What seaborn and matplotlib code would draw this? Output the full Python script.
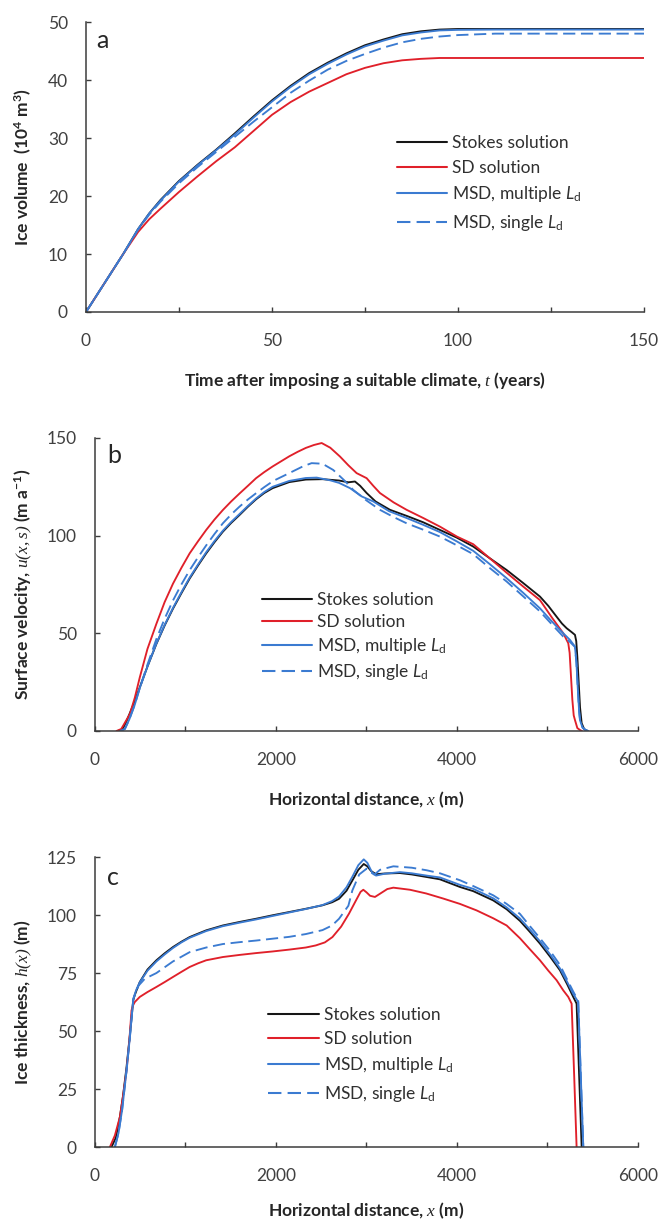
import matplotlib
matplotlib.use("Agg")
import matplotlib.pyplot as plt
import seaborn as sns
from matplotlib.ticker import MultipleLocator

# ---------------- (a) ice volume vs time ----------------
t_years = [0, 5, 10, 14, 17, 20, 25, 30, 35, 40, 45, 50, 55, 60, 65, 70,
           75, 80, 85, 90, 95, 100, 110, 120, 150]
vol_stokes = [0, 5.0, 10.0, 14.3, 17.0, 19.3, 22.6, 25.4, 28.0, 30.8, 33.7, 36.5,
              39.0, 41.2, 43.0, 44.6, 46.0, 47.0, 47.9, 48.4, 48.7, 48.8, 48.8, 48.8, 48.8]
vol_sd = [0, 5.0, 10.0, 13.8, 16.0, 17.8, 20.7, 23.4, 26.0, 28.4, 31.2, 34.0,
          36.2, 38.0, 39.5, 41.0, 42.1, 42.9, 43.4, 43.65, 43.8, 43.8, 43.8, 43.8, 43.8]
vol_msd_multi = [0, 5.0, 10.0, 14.3, 17.0, 19.2, 22.5, 25.3, 27.9, 30.6, 33.5, 36.3,
                 38.8, 41.0, 42.8, 44.4, 45.8, 46.8, 47.7, 48.2, 48.55, 48.65, 48.7, 48.7, 48.7]
vol_msd_single = [0, 5.0, 10.0, 14.2, 16.8, 19.0, 22.2, 25.0, 27.6, 30.2, 32.8, 35.3,
                  37.8, 39.9, 41.8, 43.3, 44.5, 45.6, 46.5, 47.1, 47.5, 47.75, 48.0, 48.0, 48.0]

# ---------------- (b) surface velocity vs distance ----------------
x_u_stokes = [250, 300, 349, 420, 495, 580, 679, 770, 862, 955, 1046, 1140, 1229, 1320,
              1413, 1505, 1596, 1690, 1780, 1870, 1963, 2147, 2330, 2514, 2697, 2800,
              2873, 2930, 3002, 3100, 3260, 3450, 3628, 3812, 3997, 4180, 4360, 4549,
              4730, 4917, 5010, 5101, 5160, 5212, 5270, 5304, 5318, 5330, 5345, 5360,
              5378, 5405, 5440]
u_stokes = [0, 0.5, 5.1, 13.0, 22.3, 33.0, 44.6, 54.0, 62.6, 70.5, 78.0, 84.8, 90.9, 96.6,
            102.0, 106.5, 110.5, 114.8, 118.6, 121.8, 124.3, 127.4, 128.7, 128.9, 128.2, 127.3,
            127.7, 125.5, 121.8, 117.5, 113.2, 110.0, 106.8, 102.9, 99.0, 94.4, 88.5, 82.4,
            75.8, 68.8, 64.0, 58.5, 55.0, 52.6, 50.5, 49.2, 46.0, 38.0, 25.0, 12.0,
            4.0, 1.0, 0]

x_u_sd = [238, 290, 385, 440, 495, 580, 679, 770, 862, 955, 1046, 1140, 1229, 1320, 1413,
          1505, 1596, 1690, 1780, 1870, 1963, 2055, 2147, 2240, 2330, 2420, 2505, 2600,
          2707, 2800, 2891, 3002, 3075, 3149, 3300, 3444, 3628, 3812, 4000, 4180, 4360,
          4549, 4730, 4917, 5050, 5175, 5230, 5245, 5260, 5275, 5290, 5304, 5330, 5359, 5380]
u_sd = [0, 1.0, 8.6, 17.0, 27.4, 42.0, 54.9, 66.0, 75.4, 83.5, 90.9, 97.2, 102.9, 108.2,
        113.1, 117.5, 121.5, 125.5, 129.4, 132.5, 135.4, 138.0, 140.6, 142.9, 144.9, 146.4,
        147.4, 145.0, 140.5, 136.0, 132.0, 129.4, 125.5, 121.8, 117.0, 113.2, 109.0, 104.6,
        99.5, 95.6, 88.5, 81.0, 74.0, 67.0, 58.0, 50.0, 44.9, 40.0, 28.0, 16.0, 8.0,
        5.6, 1.5, 0.5, 0]

x_u_msd_multi = [280, 330, 380, 440, 495, 580, 679, 770, 862, 955, 1046, 1140, 1229, 1320,
                 1413, 1505, 1596, 1690, 1780, 1870, 1963, 2147, 2330, 2450, 2600, 2697,
                 2818, 2950, 3075, 3250, 3444, 3628, 3812, 4000, 4180, 4360, 4549, 4730,
                 4917, 5030, 5138, 5249, 5304, 5320, 5335, 5350, 5359, 5385, 5420, 5451]
u_msd_multi = [0, 1.0, 6.0, 13.5, 22.0, 33.0, 44.8, 54.3, 63.0, 71.0, 78.5, 85.3, 91.5, 97.2,
               102.5, 107.0, 111.0, 115.2, 119.0, 122.3, 125.0, 128.0, 129.5, 129.7, 128.3, 127.0,
               124.3, 120.0, 117.5, 112.5, 109.0, 105.5, 101.8, 97.0, 92.2, 85.5, 78.2, 70.8,
               62.8, 57.0, 51.7, 46.6, 43.2, 35.0, 22.0, 10.0, 5.6, 2.0, 0.5, 0]

x_u_msd_single = [280, 330, 380, 440, 495, 580, 679, 770, 862, 955, 1046, 1140, 1229, 1320,
                  1413, 1505, 1596, 1690, 1780, 1870, 1970, 2147, 2300, 2394, 2514, 2633,
                  2750, 2854, 3000, 3149, 3300, 3444, 3628, 3812, 4000, 4180, 4360, 4549,
                  4730, 4917, 5050, 5175, 5250, 5304, 5320, 5335, 5350, 5362, 5390, 5420, 5451]
u_msd_single = [0, 1.0, 6.0, 13.5, 22.0, 34.0, 47.1, 57.5, 66.8, 75.0, 82.3, 89.0, 95.0, 100.8,
                106.3, 110.8, 114.8, 118.5, 121.7, 124.8, 128.0, 132.0, 135.5, 137.1, 136.8, 133.6,
                128.5, 123.4, 118.0, 113.2, 109.5, 106.3, 103.0, 99.5, 95.0, 90.5, 83.5, 76.5,
                69.0, 61.2, 54.5, 48.3, 45.5, 43.0, 35.0, 22.0, 10.0, 5.0, 1.5, 0.5, 0]

# ---------------- (c) ice thickness vs distance ----------------
x_h_stokes = [183, 230, 275, 310, 349, 385, 410, 422, 440, 459, 495, 580, 679, 770, 862,
              955, 1046, 1140, 1229, 1413, 1596, 1780, 1963, 2147, 2330, 2514, 2620, 2697,
              2780, 2844, 2910, 2970, 3010, 3050, 3105, 3200, 3370, 3500, 3665, 3812, 4033,
              4180, 4401, 4549, 4696, 4800, 4917, 5030, 5138, 5220, 5285, 5322, 5350, 5378]
h_stokes = [0, 4.0, 12.9, 22.0, 34.5, 48.0, 58.0, 63.2, 65.5, 67.5, 71.1, 76.5, 80.5, 83.5,
            86.2, 88.5, 90.5, 92.0, 93.4, 95.5, 97.0, 98.4, 99.9, 101.3, 102.7, 104.2, 105.5,
            107.0, 110.5, 114.9, 119.5, 122.0, 121.0, 119.0, 117.6, 117.9, 118.1, 117.5,
            116.4, 115.4, 112.1, 110.3, 106.3, 102.5, 97.5, 93.0, 87.7, 82.0, 76.2, 70.0,
            64.7, 61.8, 31.0, 0]

x_h_sd = [165, 220, 275, 310, 349, 380, 404, 420, 440, 495, 580, 679, 770, 862, 955, 1046,
          1140, 1229, 1413, 1596, 1780, 1963, 2147, 2330, 2440, 2540, 2624, 2720, 2807,
          2880, 2935, 2965, 3000, 3040, 3094, 3150, 3230, 3297, 3481, 3660, 3849, 4033,
          4217, 4401, 4549, 4696, 4800, 4917, 5010, 5101, 5175, 5230, 5267, 5295, 5322]
h_sd = [0, 5.0, 12.9, 22.0, 33.0, 46.0, 58.9, 61.0, 62.5, 64.7, 66.8, 69.0, 71.1, 73.3,
        75.5, 77.6, 79.2, 80.5, 81.9, 82.8, 83.6, 84.3, 85.1, 86.0, 86.9, 88.2, 90.5, 95.0,
        100.6, 106.0, 110.0, 110.9, 109.8, 108.3, 107.8, 109.2, 111.2, 111.8, 110.9, 109.3,
        107.1, 104.8, 102.0, 98.6, 95.5, 90.0, 85.5, 80.5, 76.0, 71.9, 67.5, 64.7, 61.8,
        31.0, 0]

x_h_msd_multi = [220, 260, 300, 349, 385, 410, 425, 445, 459, 495, 580, 679, 770, 862, 955,
                 1046, 1229, 1413, 1596, 1780, 1963, 2147, 2330, 2514, 2620, 2697, 2780, 2844,
                 2910, 2970, 3010, 3060, 3105, 3200, 3370, 3500, 3665, 3812, 4033, 4180, 4401,
                 4549, 4696, 4800, 4917, 5030, 5138, 5220, 5285, 5340, 5368, 5396]
h_msd_multi = [0, 6.0, 16.0, 33.0, 47.0, 58.0, 64.0, 66.5, 68.0, 71.0, 76.0, 80.0, 83.0, 85.8,
               88.2, 90.2, 93.1, 95.2, 96.7, 98.1, 99.6, 101.1, 102.6, 104.3, 106.0, 108.0,
               112.0, 116.5, 121.5, 124.0, 122.5, 118.5, 117.0, 117.8, 118.5, 118.0, 117.0,
               116.2, 113.0, 111.3, 107.2, 103.3, 98.5, 94.0, 88.7, 83.0, 77.0, 71.0, 66.0,
               62.5, 31.0, 0]

x_h_msd_single = [220, 260, 300, 349, 385, 410, 425, 445, 480, 550, 679, 862, 1046, 1229,
                  1413, 1596, 1780, 1963, 2147, 2330, 2514, 2620, 2697, 2800, 2844, 2920,
                  3002, 3045, 3087, 3150, 3297, 3500, 3665, 3812, 4033, 4180, 4401, 4549,
                  4696, 4800, 4917, 5030, 5138, 5220, 5285, 5340, 5368, 5396]
h_msd_single = [0, 6.0, 16.0, 33.0, 47.0, 58.0, 64.0, 66.0, 69.5, 72.5, 75.0, 80.0, 84.0,
                86.0, 87.5, 88.3, 89.0, 89.8, 90.6, 91.8, 93.5, 95.5, 98.4, 104.0, 110.6,
                117.5, 120.0, 118.5, 117.4, 119.5, 121.0, 120.4, 119.3, 118.0, 115.0, 112.5,
                108.5, 104.8, 100.5, 95.5, 90.0, 84.5, 78.5, 72.0, 67.0, 63.0, 31.0, 0]

series_names = ["Stokes solution", "SD solution",
                r"MSD, multiple $\mathit{L}_{\mathregular{d}}$",
                r"MSD, single $\mathit{L}_{\mathregular{d}}$"]

# ---------------- styling ----------------
sns.set_style("ticks")
plt.rcParams.update({
    "font.family": ["Lato", "DejaVu Sans"],
    "mathtext.fontset": "custom",
    "mathtext.rm": "Lato",
    "mathtext.it": "Lato:italic",
    "mathtext.bf": "Lato:bold",
    "mathtext.cal": "Liberation Serif:italic",
    "mathtext.default": "regular",
    "axes.linewidth": 1.1,
    "axes.edgecolor": "#3c3c3c",
    "xtick.color": "#3c3c3c",
    "ytick.color": "#3c3c3c",
    "text.color": "#262626",
    "axes.labelcolor": "#262626",
})

C_BLACK = "#161616"
C_RED = "#e0202a"
C_BLUE = "#3b7bd1"
LW = 1.35
TEXT_GREY = "#404040"

fig = plt.figure(figsize=(6.6, 12.24), dpi=100)
ax_a = fig.add_axes([0.1303, 0.7451, 0.8455, 0.2369])
ax_b = fig.add_axes([0.1439, 0.4028, 0.8227, 0.2394])
ax_c = fig.add_axes([0.1439, 0.0629, 0.8227, 0.2369])


def draw(ax, xs, ys):
    styles = [(C_BLACK, "-"), (C_RED, "-"), (C_BLUE, "-"), (C_BLUE, "--")]
    for (x, y), (col, ls), name in zip(zip(xs, ys), styles, series_names):
        sns.lineplot(x=x, y=y, ax=ax, color=col, lw=LW, label=name,
                     linestyle=ls, estimator=None)
    for ln in ax.get_lines():
        if ln.get_linestyle() == "--":
            ln.set_dashes((6.5, 3.0))


draw(ax_a, [t_years] * 4, [vol_stokes, vol_sd, vol_msd_multi, vol_msd_single])
draw(ax_b, [x_u_stokes, x_u_sd, x_u_msd_multi, x_u_msd_single],
     [u_stokes, u_sd, u_msd_multi, u_msd_single])
draw(ax_c, [x_h_stokes, x_h_sd, x_h_msd_multi, x_h_msd_single],
     [h_stokes, h_sd, h_msd_multi, h_msd_single])

sns.despine(fig=fig)

# axes limits and ticks
ax_a.set_xlim(0, 150)
ax_a.set_ylim(0, 50)
ax_a.xaxis.set_major_locator(MultipleLocator(50))
ax_a.xaxis.set_minor_locator(MultipleLocator(25))
ax_a.yaxis.set_major_locator(MultipleLocator(10))

ax_b.set_xlim(0, 6000)
ax_b.set_ylim(0, 150)
ax_b.xaxis.set_major_locator(MultipleLocator(2000))
ax_b.xaxis.set_minor_locator(MultipleLocator(1000))
ax_b.yaxis.set_major_locator(MultipleLocator(50))

ax_c.set_xlim(0, 6000)
ax_c.set_ylim(0, 125)
ax_c.xaxis.set_major_locator(MultipleLocator(2000))
ax_c.xaxis.set_minor_locator(MultipleLocator(1000))
ax_c.yaxis.set_major_locator(MultipleLocator(25))

for ax in (ax_a, ax_b, ax_c):
    ax.tick_params(axis="both", which="both", direction="in", length=3.6, width=1.0)
    ax.tick_params(axis="x", which="major", pad=15, labelsize=12.5, labelcolor=TEXT_GREY)
    ax.tick_params(axis="y", which="major", pad=13, labelsize=12.5, labelcolor=TEXT_GREY)
    ax.grid(False)

lab_kw = dict(fontsize=12.5, fontweight="bold")
ax_a.set_xlabel(r"Time after imposing a suitable climate, $\mathcal{t}$ (years)", **lab_kw)
ax_a.set_ylabel(r"Ice volume  (10$^{4}$ m$^{3}$)", **lab_kw)
ax_b.set_xlabel(r"Horizontal distance, $\mathcal{x}$ (m)", **lab_kw)
ax_b.set_ylabel(r"Surface velocity, $\mathcal{u(x,s)}$ (m a$^{-1}$)", **lab_kw)
ax_c.set_xlabel(r"Horizontal distance, $\mathcal{x}$ (m)", **lab_kw)
ax_c.set_ylabel(r"Ice thickness, $\mathcal{h(x)}$ (m)", **lab_kw)

ax_a.xaxis.set_label_coords(0.5, -0.2)
ax_a.yaxis.set_label_coords(-0.093, 0.5)
ax_b.xaxis.set_label_coords(0.5, -0.2)
ax_b.yaxis.set_label_coords(-0.112, 0.5)
ax_c.xaxis.set_label_coords(0.5, -0.185)
ax_c.yaxis.set_label_coords(-0.112, 0.5)

# panel letters
for ax, letter, pos in ((ax_a, "a", (0.018, 0.935)), (ax_b, "b", (0.022, 0.94)),
                        (ax_c, "c", (0.022, 0.93))):
    ax.text(*pos, letter, transform=ax.transAxes, fontsize=18, color="#262626",
            ha="left", va="center")

# legends
leg_kw = dict(loc="center left", frameon=False, fontsize=12.5, handlelength=2.9,
              handletextpad=0.3, borderpad=0, borderaxespad=0)
for ax, anchor, spacing in ((ax_a, (0.557, 0.441), 0.5),
                            (ax_b, (0.3075, 0.321), 0.35),
                            (ax_c, (0.319, 0.317), 0.48)):
    leg = ax.legend(bbox_to_anchor=anchor, labelspacing=spacing, **leg_kw)
    for txt in leg.get_texts():
        txt.set_color("#303030")
    for h in leg.get_lines():
        h.set_linewidth(LW * 1.1)

fig.savefig("out.png", dpi=100)
